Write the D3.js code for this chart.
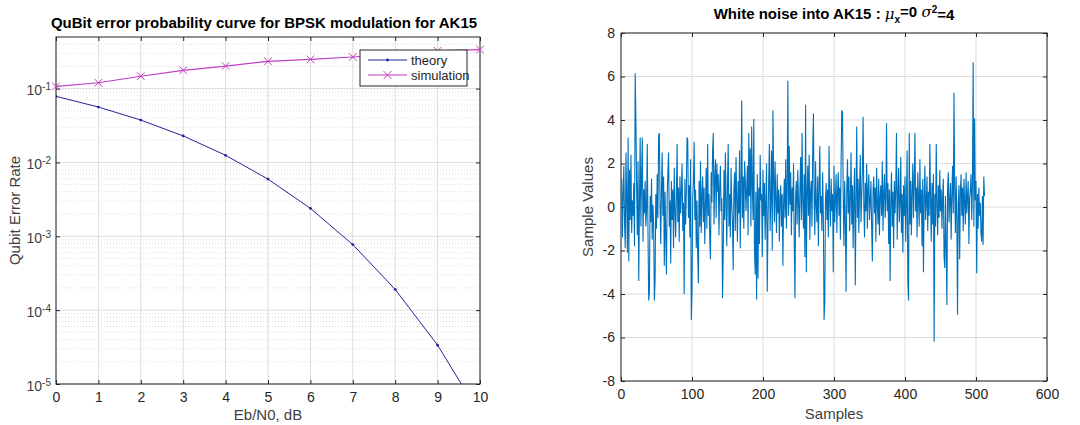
<!DOCTYPE html>
<head>
  <meta charset = "utf-8">
  <title>BPSK QuBit error / white noise</title>
  <script src = "https://cdn.jsdelivr.net/npm/d3@7/dist/d3.min.js"></script>
  <style>
  body { margin: 0; background: #fff; }
  svg text { font-family: "Liberation Sans", Arial, sans-serif; fill: #262626; }
  .grid line { stroke: #dcdcdc; stroke-width: 1px; }
  .minor line { stroke: #d4d4d4; stroke-width: 0.8px; stroke-dasharray: 1,2; }
  .frame { fill: none; stroke: #262626; stroke-width: 1px; }
  </style>
</head>

<body>
  <script type="text/javascript">
    var WIDTH = 1080;
    var HEIGHT = 425;

    // left chart data
    var ebno = [0, 1, 2, 3, 4, 5, 6, 7, 8, 9, 10];
    var theoryBer = [0.0786, 0.0563, 0.0375, 0.0229, 0.0125, 0.00595, 0.00239, 0.000773, 0.000191, 0.0000336, 0.00000387];
    var simBer = [0.107, 0.12, 0.147, 0.177, 0.202, 0.234, 0.249, 0.268, 0.29, 0.325, 0.338];
    var berTicks = [1e-1, 1e-2, 1e-3, 1e-4, 1e-5];

    // right chart data (samples 1..512)
    var noise = [
      1.3, -1.4, 0.6, 1.9, -0.8, -1.9, 2.5, 0.4, -2.1, 3.2, -2.5, 1.7, -0.6, 2.4, -1.2, 0.3,
      -0.4, 1.1, -1.8, 6.15, 4.0, 0.9, -1.3, 2.1, -3.4, 0.2, 3.2, -0.9, 1.5, 3.2, -1.6, 0.8,
      -0.3, 1.2, -0.9, -0.2, 2.9, -1.1, -4.3, -3.9, 0.5, -0.7, 1.3, -1.5, 0.1, -0.8, -4.3, -3.4,
      0.6, -1.0, 1.5, -0.5, 3.3, 3.4, 0.2, -1.7, 0.9, 2.5, -0.4, 1.4, -2.7, 0.7, -1.3, -3.1,
      0.4, 1.6, 2.5, -0.9, 0.3, -2.6, 1.2, -0.6, 0.8, -1.9, 1.8, -0.2, -1.4, 0.5, 2.9, -0.7,
      0.9, -1.6, 1.4, -0.3, 0.7, 2.0, -1.1, 0.2, -4.0, 1.3, -0.8, 0.6, 3.2, 3.1, -0.5, 1.0,
      -1.4, 2.2, -5.2, -3.9, 0.4, 1.1, 3.0, -0.6, 0.8, -1.9, 0.3, -2.2, -3.5, 1.2, -0.9, 2.1,
      -1.2, 0.5, 1.4, -0.7, 0.9, -1.7, 0.1, 1.8, -1.0, 2.9, -0.4, 0.6, -1.5, -2.4, 1.6, 0.2,
      2.6, 3.4, -0.8, 1.3, 2.2, -0.5, 2.0, 0.7, 1.5, -1.3, 0.9, 1.9, -0.2, 0.4, -4.2, -2.1,
      1.7, -0.6, 2.5, 0.3, -1.8, 1.1, 2.9, -0.9, 0.6, -1.4, 1.8, 0.1, -0.7, -2.9, 0.8, 1.6,
      -1.1, 2.3, 0.4, -1.6, 1.2, -0.3, 2.6, -1.9, 0.9, 4.9, -0.5, 1.4, -1.0, 2.1, 1.3, -0.2,
      0.8, 1.9, -1.3, 3.4, 0.5, 2.7, -0.9, 3.7, 1.0, -0.6, 4.05, -2.0, -3.1, 0.7, -4.25, 1.5,
      -3.3, 0.9, -1.7, 2.4, 0.3, 0.6, -2.3, 1.7, -0.4, 1.1, -1.5, 0.2, 2.0, -3.9, -0.8, 1.2,
      2.9, -1.1, 0.5, 2.6, -2.0, 4.45, 1.4, -0.7, 2.1, 0.3, -1.2, 1.5, -0.3, 0.8, -1.6, 0.4,
      1.0, -0.9, 0.6, -2.7, 0.2, 1.3, -0.5, 2.2, -1.0, 0.7, 5.8, -0.4, 2.8, 0.1, 1.6, -1.3,
      0.9, -0.2, 2.0, -1.6, -4.2, 0.5, 1.2, -0.8, 1.7, 0.3, -1.4, 0.8, 2.3, -0.6, 3.4, 0.2,
      -1.0, 1.5, -2.3, 4.7, -3.0, 0.6, 1.9, -0.4, 2.4, -1.5, 0.7, 1.2, -0.9, 2.6, 4.3, 0.4,
      -1.3, 2.1, 0.1, -0.7, 1.4, -1.8, 0.9, 2.8, -0.3, 0.5, -1.1, 1.6, -0.5, -5.2, -4.4, 0.3,
      1.1, -0.6, 0.8, -1.4, 2.8, 0.2, -0.9, 1.3, -0.2, 0.6, -3.0, 1.9, -0.7, 0.4, 1.5, -1.2,
      0.7, 1.6, -0.4, 0.9, -1.5, 2.0, 4.45, 4.35, 0.5, -1.8, 1.2, -0.6, -3.9, 0.8, 2.2, -0.3,
      1.4, -1.1, 0.3, 2.5, -0.8, 1.0, -1.9, 0.6, 1.8, -3.6, 0.2, 3.7, -0.5, 1.3, -1.2, 0.9,
      2.4, -0.7, 0.5, 1.7, 4.15, 0.1, -1.4, 1.1, -0.2, 2.0, -1.0, 0.8, 1.5, -0.6, 0.3, 1.2,
      -0.9, -2.5, 0.7, 1.4, -0.3, 0.9, -1.6, 1.8, 0.2, -0.8, 1.3, -1.3, 0.5, 1.0, -0.4, 2.1,
      -1.1, 0.6, 1.5, -0.5, 0.3, 3.85, -0.2, 1.1, -1.7, 0.8, -3.4, 0.4, 1.6, -0.9, 0.7, -1.9,
      1.2, -0.3, 0.9, 3.4, -1.5, 0.5, 1.8, -0.7, 0.2, 2.3, -1.2, 0.6, -2.1, 1.0, -0.4, 1.4,
      -1.6, 0.3, 2.6, -3.5, -4.3, 3.4, -0.8, 1.2, -1.3, 0.7, 2.0, -0.5, 1.1, 3.4, -0.2, 0.9,
      -1.4, 1.6, 0.4, -0.9, 2.2, -0.3, 0.8, -1.8, 1.3, -3.0, 0.5, 1.9, -0.6, 0.2, 1.4, -1.1,
      0.7, -0.4, 2.9, 0.3, -1.6, 1.1, -0.8, 1.5, -6.2, 0.6, -0.9, 2.9, 0.1, -1.3, 1.0, -0.5,
      1.7, -0.2, 0.8, -1.0, 0.4, 1.3, -2.3, -2.8, 0.5, -1.9, -4.5, 0.9, 1.6, -0.7, 0.3, 1.1,
      -1.5, 0.6, 1.9, -0.3, 5.25, 0.8, -1.2, 1.4, -0.6, -4.95, 0.2, 1.0, -2.4, 0.7, 1.5, -0.4,
      0.9, -1.1, 1.3, 0.2, -0.8, 1.6, -0.3, 0.5, 1.2, -1.7, 0.4, 0.8, 1.5, -0.6, 1.1, 6.65,
      -0.9, 4.07, 0.3, 1.2, -3.05, 0.6, -1.0, 0.9, -0.4, 0.2, -1.2, -1.6, 0.5, -1.75, 1.4, 0.5
    ];
    var sampleTicks = [0, 100, 200, 300, 400, 500, 600];
    var valueTicks = [-8, -6, -4, -2, 0, 2, 4, 6, 8];

    var TICK_FONT = "14px";
    var LABEL_FONT = "15px";

    var svg = d3.select("body").append("svg")
                .attr("width", WIDTH)
                .attr("height", HEIGHT);

    //========== left: BER curve ==========
    var L = {left: 56, right: 480, top: 37, bottom: 384};
    var xL = d3.scaleLinear().domain([0, 10]).range([L.left, L.right]);
    var yL = d3.scaleLog().domain([1e-5, 0.5]).range([L.bottom, L.top]);

    var gL = svg.append("g");
    gL.append("defs").append("clipPath").attr("id", "clipL")
      .append("rect").attr("x", L.left).attr("y", L.top)
      .attr("width", L.right - L.left).attr("height", L.bottom - L.top);

    // minor grid (2..9 x 10^k)
    var minors = [];
    [-5, -4, -3, -2, -1].forEach(function(k){
      for (var m = 2; m <= 9; m++) {
        var v = m * Math.pow(10, k);
        if (v <= 0.5) minors.push(v);
      }
    });
    gL.append("g").attr("class", "minor").selectAll("line")
      .data(minors).enter().append("line")
      .attr("x1", L.left).attr("x2", L.right)
      .attr("y1", function(d){ return yL(d); })
      .attr("y2", function(d){ return yL(d); });

    gL.append("g").attr("class", "grid").selectAll("line.h")
      .data(berTicks).enter().append("line")
      .attr("x1", L.left).attr("x2", L.right)
      .attr("y1", function(d){ return yL(d); })
      .attr("y2", function(d){ return yL(d); });
    gL.append("g").attr("class", "grid").selectAll("line.v")
      .data(ebno).enter().append("line")
      .attr("y1", L.top).attr("y2", L.bottom)
      .attr("x1", function(d){ return xL(d); })
      .attr("x2", function(d){ return xL(d); });

    // axes (ticks inside, box on)
    var xAxisL = gL.append("g").attr("transform", "translate(0," + L.bottom + ")")
      .call(d3.axisBottom(xL).tickValues(ebno).tickSize(-4).tickPadding(8).tickFormat(function(d){ return String(d); }));
    gL.append("g").attr("transform", "translate(0," + L.top + ")")
      .call(d3.axisTop(xL).tickValues(ebno).tickSize(-4).tickFormat(""));
    var yAxisL = gL.append("g").attr("transform", "translate(" + L.left + ",0)")
      .call(d3.axisLeft(yL).tickValues(berTicks).tickSize(-4).tickPadding(6).tickFormat(""));
    gL.append("g").attr("transform", "translate(" + L.right + ",0)")
      .call(d3.axisRight(yL).tickValues(berTicks).tickSize(-4).tickFormat(""));

    // 10^k labels
    yAxisL.selectAll(".tick").each(function(d){
      var t = d3.select(this).append("text")
        .attr("x", -5).attr("dy", "0.45em")
        .attr("text-anchor", "end")
        .style("font-size", TICK_FONT).style("fill", "#404040");
      t.append("tspan").text("10");
      t.append("tspan").attr("dy", "-0.5em").style("font-size", "10px")
        .text(String(Math.round(Math.log10(d))));
    });

    gL.selectAll(".domain").remove();
    gL.selectAll(".tick line").attr("stroke", "#262626");
    xAxisL.selectAll("text").style("font-size", TICK_FONT).attr("fill", "#404040");

    gL.append("rect").attr("class", "frame")
      .attr("x", L.left).attr("y", L.top)
      .attr("width", L.right - L.left).attr("height", L.bottom - L.top);

    var lineL = d3.line()
      .x(function(d, i){ return xL(ebno[i]); })
      .y(function(d){ return yL(d); });

    var plotL = gL.append("g").attr("clip-path", "url(#clipL)");
    plotL.append("path").datum(theoryBer)
      .attr("d", lineL).attr("fill", "none")
      .attr("stroke", "#24249a").attr("stroke-width", 1);
    plotL.selectAll("circle.th").data(theoryBer).enter().append("circle")
      .attr("cx", function(d, i){ return xL(ebno[i]); })
      .attr("cy", function(d){ return yL(d); })
      .attr("r", 1.4).attr("fill", "#24249a");

    plotL.append("path").datum(simBer)
      .attr("d", lineL).attr("fill", "none")
      .attr("stroke", "#c23ec2").attr("stroke-width", 1.2);
    var cross = d3.symbol().type(d3.symbolX).size(40);
    gL.selectAll("path.sim").data(simBer).enter().append("path")
      .attr("d", cross)
      .attr("transform", function(d, i){ return "translate(" + xL(ebno[i]) + "," + yL(d) + ")"; })
      .attr("fill", "none").attr("stroke", "#c23ec2").attr("stroke-width", 1);

    // legend
    var leg = gL.append("g").attr("transform", "translate(360,50)");
    leg.append("rect").attr("width", 107).attr("height", 36)
      .attr("fill", "#fff").attr("stroke", "#262626");
    leg.append("line").attr("x1", 8).attr("x2", 47).attr("y1", 10).attr("y2", 10)
      .attr("stroke", "#24249a");
    leg.append("circle").attr("cx", 27.5).attr("cy", 10).attr("r", 1.4).attr("fill", "#24249a");
    leg.append("text").attr("x", 51).attr("y", 14.5).style("font-size", "13px").text("theory");
    leg.append("line").attr("x1", 8).attr("x2", 47).attr("y1", 25).attr("y2", 25)
      .attr("stroke", "#c23ec2").attr("stroke-width", 1.2);
    leg.append("path").attr("d", cross).attr("transform", "translate(27.5,25)")
      .attr("fill", "none").attr("stroke", "#c23ec2");
    leg.append("text").attr("x", 51).attr("y", 29.5).style("font-size", "13px").text("simulation");

    gL.append("text").attr("x", (L.left + L.right) / 2 - 4).attr("y", 28)
      .attr("text-anchor", "middle").style("font-size", "15px").style("font-weight", "bold")
      .style("fill", "#000")
      .text("QuBit error probability curve for BPSK modulation for AK15");
    gL.append("text").attr("x", (L.left + L.right) / 2).attr("y", 420)
      .attr("text-anchor", "middle").style("font-size", LABEL_FONT).style("fill", "#404040")
      .text("Eb/N0, dB");
    gL.append("text").attr("transform", "translate(20," + ((L.top + L.bottom) / 2) + ") rotate(-90)")
      .attr("text-anchor", "middle").style("font-size", LABEL_FONT).style("fill", "#404040")
      .text("Qubit Error Rate");

    //========== right: white noise ==========
    var R = {left: 621, right: 1047, top: 33, bottom: 381};
    var xR = d3.scaleLinear().domain([0, 600]).range([R.left, R.right]);
    var yR = d3.scaleLinear().domain([-8, 8]).range([R.bottom, R.top]);
    var gR = svg.append("g");

    gR.append("g").attr("class", "grid").selectAll("line.h")
      .data(valueTicks).enter().append("line")
      .attr("x1", R.left).attr("x2", R.right)
      .attr("y1", function(d){ return yR(d); })
      .attr("y2", function(d){ return yR(d); });
    gR.append("g").attr("class", "grid").selectAll("line.v")
      .data(sampleTicks).enter().append("line")
      .attr("y1", R.top).attr("y2", R.bottom)
      .attr("x1", function(d){ return xR(d); })
      .attr("x2", function(d){ return xR(d); });

    var plainFmt = function(d){ return String(d); };
    gR.append("g").attr("transform", "translate(0," + R.bottom + ")")
      .call(d3.axisBottom(xR).tickValues(sampleTicks).tickSize(-4).tickPadding(8).tickFormat(plainFmt));
    gR.append("g").attr("transform", "translate(0," + R.top + ")")
      .call(d3.axisTop(xR).tickValues(sampleTicks).tickSize(-4).tickFormat(""));
    gR.append("g").attr("transform", "translate(" + R.left + ",0)")
      .call(d3.axisLeft(yR).tickValues(valueTicks).tickSize(-4).tickPadding(6).tickFormat(plainFmt));
    gR.append("g").attr("transform", "translate(" + R.right + ",0)")
      .call(d3.axisRight(yR).tickValues(valueTicks).tickSize(-4).tickFormat(""));
    gR.selectAll(".domain").remove();
    gR.selectAll(".tick line").attr("stroke", "#262626");
    gR.selectAll(".tick text").style("font-size", TICK_FONT).attr("fill", "#404040");

    gR.append("rect").attr("class", "frame")
      .attr("x", R.left).attr("y", R.top)
      .attr("width", R.right - R.left).attr("height", R.bottom - R.top);

    var lineR = d3.line()
      .x(function(d, i){ return xR(i + 1); })
      .y(function(d){ return yR(d); });
    gR.append("path").datum(noise)
      .attr("d", lineR).attr("fill", "none")
      .attr("stroke", "#0072bd").attr("stroke-width", 1.1);

    var tR = gR.append("text").attr("x", (R.left + R.right) / 2).attr("y", 19)
      .attr("text-anchor", "middle").style("font-size", "15px").style("font-weight", "bold")
      .style("fill", "#000");
    tR.append("tspan").text("White noise into AK15 : ");
    tR.append("tspan").style("font-family", "'DejaVu Serif', serif").style("font-style", "italic")
      .style("font-weight", "normal").text("\u03bc");
    tR.append("tspan").attr("dy", "0.35em").style("font-size", "10px").text("x");
    tR.append("tspan").attr("dy", "-0.35em").text("=0 ");
    tR.append("tspan").style("font-family", "'DejaVu Serif', serif").style("font-style", "italic")
      .style("font-weight", "normal").text("\u03c3");
    tR.append("tspan").attr("dy", "-0.45em").style("font-size", "10px").text("2");
    tR.append("tspan").attr("dy", "0.45em").text("=4");

    gR.append("text").attr("x", (R.left + R.right) / 2).attr("y", 419)
      .attr("text-anchor", "middle").style("font-size", LABEL_FONT).style("fill", "#404040")
      .text("Samples");
    gR.append("text").attr("transform", "translate(593," + ((R.top + R.bottom) / 2) + ") rotate(-90)")
      .attr("text-anchor", "middle").style("font-size", LABEL_FONT).style("fill", "#404040")
      .text("Sample Values");
  </script>
</body>
